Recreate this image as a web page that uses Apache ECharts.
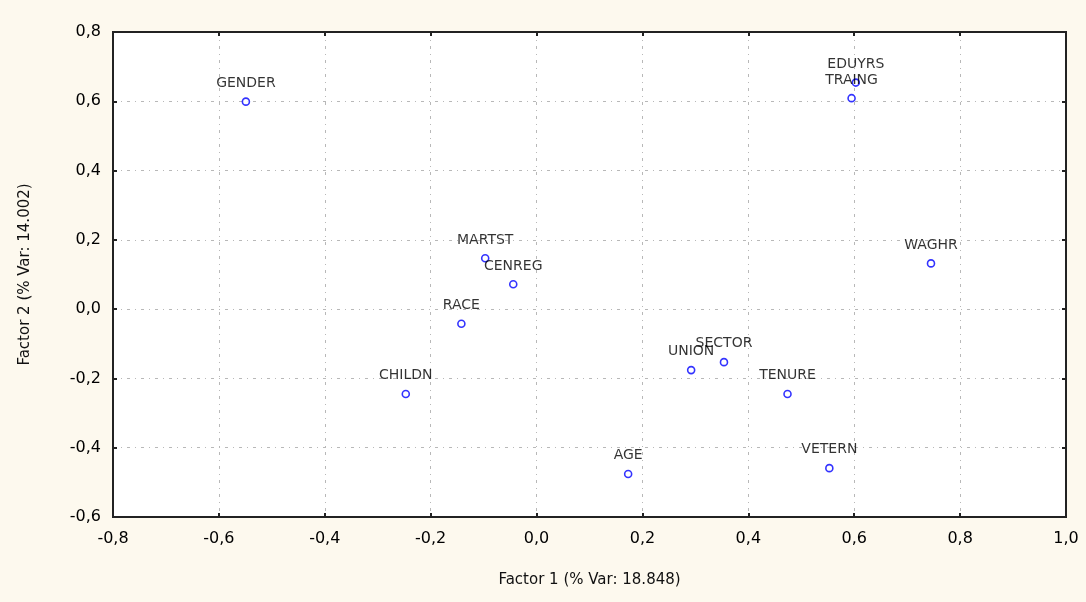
<!DOCTYPE html>
<html><head><meta charset="utf-8">
<script src="https://cdn.jsdelivr.net/npm/echarts@6/dist/echarts.min.js"></script>
<style>html,body{margin:0;padding:0;background:#fff}#c{width:1086px;height:602px}</style>
</head><body><div id="c"></div>
<script>
const names = ['GENDER','EDUYRS','TRAING','WAGHR','MARTST','CENREG','RACE','CHILDN','UNION','SECTOR','TENURE','AGE','VETERN'];
const factor1 = [-0.549, 0.603, 0.595, 0.745, -0.097, -0.044, -0.142, -0.247, 0.292, 0.354, 0.474, 0.173, 0.553];
const factor2 = [0.599, 0.654, 0.609, 0.132, 0.147, 0.072, -0.042, -0.245, -0.176, -0.153, -0.245, -0.476, -0.459];
const xTicks = {min: -0.8, max: 1.0, interval: 0.2};
const yTicks = {min: -0.6, max: 0.8, interval: 0.2};
const xName = 'Factor 1 (% Var: 18.848)';
const yName = 'Factor 2 (% Var: 14.002)';

const fmt = v => (Math.round(v*10)/10).toFixed(1).replace('.', ',');
const gridLine = {show: true, lineStyle: {color: '#b8b8b8', type: [3,5,1,5], width: 1}};
const axisFont = {fontFamily: 'DejaVu Sans', fontSize: 16, color: '#000'};
const data = names.map((n,i) => [factor1[i], factor2[i], n]);

const chart = echarts.init(document.getElementById('c'));
chart.setOption({
  backgroundColor: '#fdf9ee',
  animation: false,
  grid: {left: 113, right: 20, top: 32, bottom: 85, show: true, backgroundColor: '#fff', borderColor: '#222', borderWidth: 2},
  xAxis: [{
    type: 'value', min: xTicks.min, max: xTicks.max, interval: xTicks.interval,
    position: 'bottom',
    axisLine: {show: true, onZero: false, lineStyle: {color: '#222', width: 2}},
    axisTick: {show: true, inside: true, length: 4, lineStyle: {color: '#222', width: 2}},
    axisLabel: Object.assign({formatter: fmt, margin: 14}, axisFont),
    splitLine: gridLine,
    name: xName, nameLocation: 'middle', nameGap: 56,
    nameTextStyle: {fontFamily: 'DejaVu Sans', fontSize: 15, color: '#111'}
  },{
    type: 'value', min: xTicks.min, max: xTicks.max, interval: xTicks.interval,
    position: 'top',
    axisLine: {show: true, onZero: false, lineStyle: {color: '#222', width: 2}},
    axisTick: {show: true, inside: true, length: 4, lineStyle: {color: '#222', width: 2}},
    axisLabel: {show: false}, splitLine: {show: false}
  }],
  yAxis: [{
    type: 'value', min: yTicks.min, max: yTicks.max, interval: yTicks.interval,
    position: 'left',
    axisLine: {show: true, onZero: false, lineStyle: {color: '#222', width: 2}},
    axisTick: {show: true, inside: true, length: 4, lineStyle: {color: '#222', width: 2}},
    axisLabel: Object.assign({formatter: fmt, margin: 12}, axisFont),
    splitLine: gridLine,
    name: yName, nameLocation: 'middle', nameGap: 80,
    nameTextStyle: {fontFamily: 'DejaVu Sans', fontSize: 15, color: '#111'}
  },{
    type: 'value', min: yTicks.min, max: yTicks.max, interval: yTicks.interval,
    position: 'right',
    axisLine: {show: true, onZero: false, lineStyle: {color: '#222', width: 2}},
    axisTick: {show: true, inside: true, length: 4, lineStyle: {color: '#222', width: 2}},
    axisLabel: {show: false}, splitLine: {show: false}
  }],
  series: [{
    type: 'scatter',
    xAxisIndex: 0, yAxisIndex: 0,
    data: data,
    symbol: 'circle', symbolSize: 7,
    itemStyle: {color: '#fff', borderColor: '#0000ff', borderWidth: 1.6},
    label: {
      show: true, position: 'top', distance: 7,
      formatter: p => p.data[2],
      fontFamily: 'DejaVu Sans', fontSize: 14, color: '#000'
    },
    emphasis: {disabled: true}
  }]
});
</script></body></html>
